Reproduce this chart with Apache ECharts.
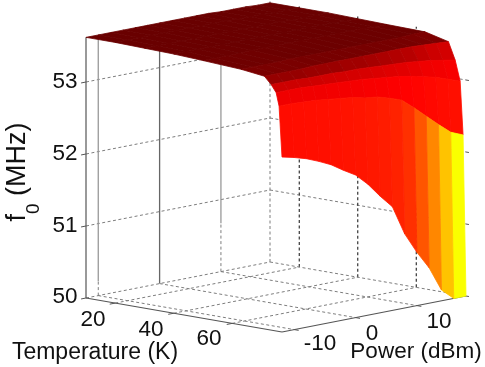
<!DOCTYPE html>
<html><head><meta charset="utf-8">
<script src="https://cdn.jsdelivr.net/npm/echarts@6/dist/echarts.min.js"></script>
<style>html,body{margin:0;background:#fff}#c{width:485px;height:367px}</style></head>
<body><div id="c"></div>
<script>
const temperatures=[10,20,30,40,50,63,71,73.3,75,76,77];
const powers=[-12,-10,-8,-6,-4,-2,0,2,4,6,8,10,12,14,16,18];
const f10=[53.62,53.62,53.62,53.62,53.62,53.62,53.62,53.62,53.62,53.62,53.62,53.61,53.61,53.61,53.60,53.60];
const f20=[53.62,53.62,53.62,53.62,53.62,53.62,53.62,53.62,53.62,53.62,53.61,53.61,53.61,53.60,53.60,53.60];
const f30=[53.61,53.61,53.61,53.61,53.61,53.61,53.61,53.61,53.61,53.61,53.61,53.61,53.60,53.60,53.60,53.60];
const f40=[53.60,53.60,53.60,53.60,53.60,53.60,53.60,53.60,53.60,53.60,53.60,53.60,53.60,53.60,53.59,53.59];
const f50=[53.58,53.58,53.58,53.58,53.59,53.59,53.59,53.59,53.59,53.59,53.59,53.59,53.59,53.59,53.58,53.58];
const f63=[53.55,53.55,53.55,53.55,53.56,53.56,53.56,53.56,53.56,53.56,53.56,53.56,53.56,53.56,53.57,53.57];
const f71=[53.51,53.51,53.51,53.51,53.52,53.52,53.52,53.52,53.52,53.52,53.52,53.52,53.52,53.51,53.50,53.49];
const f73=[53.41,53.41,53.41,53.40,53.40,53.40,53.39,53.39,53.38,53.37,53.36,53.35,53.33,53.31,53.28,53.25];
const f75=[53.31,53.31,53.31,53.30,53.29,53.28,53.27,53.26,53.24,53.22,53.20,53.17,53.13,53.09,53.03,52.97];
const f76=[53.13,53.13,53.12,53.11,53.09,53.07,53.05,53.01,52.99,52.94,52.88,52.74,52.59,52.44,52.30,52.23];
const f77=[52.43,52.39,52.34,52.27,52.19,52.08,51.98,51.82,51.62,51.44,51.03,50.74,50.49,50.15,50.00,50.00];
const surface=[f10,f20,f30,f40,f50,f63,f71,f73,f75,f76,f77];
const tempTicks=[20,40,60];
const powerTicks=[-10,0,10];
const freqTicks=[50,51,52,53];
const solidDownTo=[50.2,50,50.67];
const zTop=53.62;

// colour ramp: frequency -> colour
const ramp=[[50,[250,255,0]],[50.15,[255,195,0]],[50.49,[255,135,0]],[50.74,[255,85,0]],[51.03,[255,48,0]],[51.6,[255,28,0]],[52.43,[255,12,0]],[52.9,[255,0,0]],[53.13,[240,0,0]],[53.31,[205,0,0]],[53.41,[150,0,0]],[53.51,[122,0,0]],[53.56,[108,0,0]],[53.62,[105,0,0]]];
function colorOf(z){
  for(let i=1;i<ramp.length;i++){ if(z<=ramp[i][0]){
    const a=ramp[i-1],b=ramp[i],t=Math.max(0,(z-a[0])/(b[0]-a[0]));
    return 'rgb('+a[1].map((v,k)=>Math.round(v+(b[1][k]-v)*t)).join(',')+')';
  }}
  return 'rgb(105,0,0)';
}
const Tmin=10,Tmax=77,Pmin=-12,Pmax=18;
function proj(T,P,z){
  const tf=(T-Tmin)/(Tmax-Tmin),pf=(P-Pmin)/(Pmax-Pmin);
  return [86+196*tf+184*pf, 298+34*tf-36*pf-72*(z-50)];
}
// line list: [T1,P1,z1,T2,P2,z2,color,width,dashed]
const G='#7d7d7d',D='#555',K='#222';
const lines=[];
function L(a,b,c,w,d){lines.push([...a,...b,c,w,d?1:0]);}
freqTicks.filter(z=>z>50).forEach(z=>{
  L([Tmin,Pmin,z],[Tmin,Pmax,z],G,1,true);
  L([Tmin,Pmax,z],[Tmax,Pmax,z],G,1,true);
});
powerTicks.forEach((p,i)=>{
  L([Tmin,p,solidDownTo[i]],[Tmin,p,zTop],i==1?'#666':'#999',1.3,false);
  L([Tmin,p,50],[Tmin,p,solidDownTo[i]],G,1,true);
  L([Tmin,p,50],[Tmax,p,50],G,1,true);
  L([Tmax,p,50],[Tmax+1.5,p,50],D,1,false);
});
tempTicks.forEach(t=>{
  L([t,Pmax,50],[t,Pmax,zTop],K,1.1,true);
  L([t,Pmin,50],[t,Pmax,50],G,1,true);
  L([t,Pmin,50],[t,Pmin-0.9,50],D,1,false);
});
L([Tmin,Pmax,50],[Tmin,Pmax,zTop],G,1,true);
L([Tmin,Pmin,50],[Tmin,Pmax,50],G,1,true);
L([Tmin,Pmax,50],[Tmax,Pmax,50],G,1,true);
L([Tmin,Pmin,50],[Tmin,Pmin,zTop],D,1.2,false);
L([Tmin,Pmin,50],[Tmax,Pmin,50],D,1.2,false);
L([Tmax,Pmin,50],[Tmax,Pmax,50],D,1.2,false);
freqTicks.forEach(z=>{
  L([Tmin,Pmin,z],[Tmin,Pmin-0.8,z],D,1,false);
  L([Tmax,Pmax,z],[Tmax+1,Pmax,z],D,1,false);
});
// facets back to front
const facets=[];
for(let r=0;r<temperatures.length-1;r++) for(let c=powers.length-2;c>=0;c--) facets.push([r,c]);
// text: [string,x,y,size]
const labelFont='"Liberation Sans",Arial,sans-serif';
const texts=[
 ['53',65,82,22.5],['52',65,154,22.5],['51',65,226,22.5],['50',65,297,22.5],
 ['20',93,320,22.5],['40',151,330,22.5],['60',209,339,22.5],
 ['-10',320,344,22.5],['0',372,334,22.5],['10',439,322,22.5],
 ['Temperature (K)',95,353,23],['Power (dBm)',416,352,22.5]
];
const option={
 animation:false,
 grid:{left:0,top:0,right:0,bottom:0},
 xAxis:{type:'value',min:0,max:485,show:false},
 yAxis:{type:'value',min:0,max:367,inverse:true,show:false},
 series:[
  {type:'custom',coordinateSystem:'cartesian2d',silent:true,z:1,data:lines.map((l,i)=>[i]),clip:false,
   renderItem(p,api){
    const l=lines[api.value(0)];
    const a=api.coord(proj(l[0],l[1],l[2])),b=api.coord(proj(l[3],l[4],l[5]));
    return {type:'line',shape:{x1:a[0],y1:a[1],x2:b[0],y2:b[1]},
      style:{stroke:l[6],lineWidth:l[7],lineDash:l[8]?[3,2.5]:null}};
   }},
  {type:'custom',coordinateSystem:'cartesian2d',silent:true,z:2,data:facets,clip:false,
   renderItem(p,api){
    const r=api.value(0),c=api.value(1);
    const pts=[[r,c],[r,c+1],[r+1,c+1],[r+1,c]].map(([i,j])=>api.coord(proj(temperatures[i],powers[j],surface[i][j])));
    const col=colorOf(surface[r+1][c]);
    return {type:'polygon',shape:{points:pts},style:{fill:col,stroke:col,lineWidth:0.8}};
   }},
  {type:'custom',coordinateSystem:'cartesian2d',silent:true,z:3,data:texts.map((t,i)=>[i]),clip:false,
   renderItem(p,api){
    const t=texts[api.value(0)],a=api.coord([t[1],t[2]]);
    return {type:'text',x:a[0],y:a[1],style:{text:t[0],fill:'#111',font:t[3]+'px '+labelFont,align:'center',verticalAlign:'middle'}};
   }},
  {type:'custom',coordinateSystem:'cartesian2d',silent:true,z:3,data:[[0]],clip:false,
   renderItem(p,api){
    const a=api.coord([24,172]);
    return {type:'text',x:a[0],y:a[1],rotation:Math.PI/2,style:{
      text:'{m|f}{s|0}{m| (MHz)}',fill:'#111',align:'center',verticalAlign:'middle',
      rich:{m:{fontSize:27,fontFamily:labelFont,lineHeight:39,verticalAlign:'top',fill:'#111'},
            s:{fontSize:19,fontFamily:labelFont,lineHeight:39,verticalAlign:'bottom',fill:'#111'}}}};
   }}
 ]
};
echarts.init(document.getElementById('c'),null,{renderer:'canvas'}).setOption(option);
</script></body></html>
